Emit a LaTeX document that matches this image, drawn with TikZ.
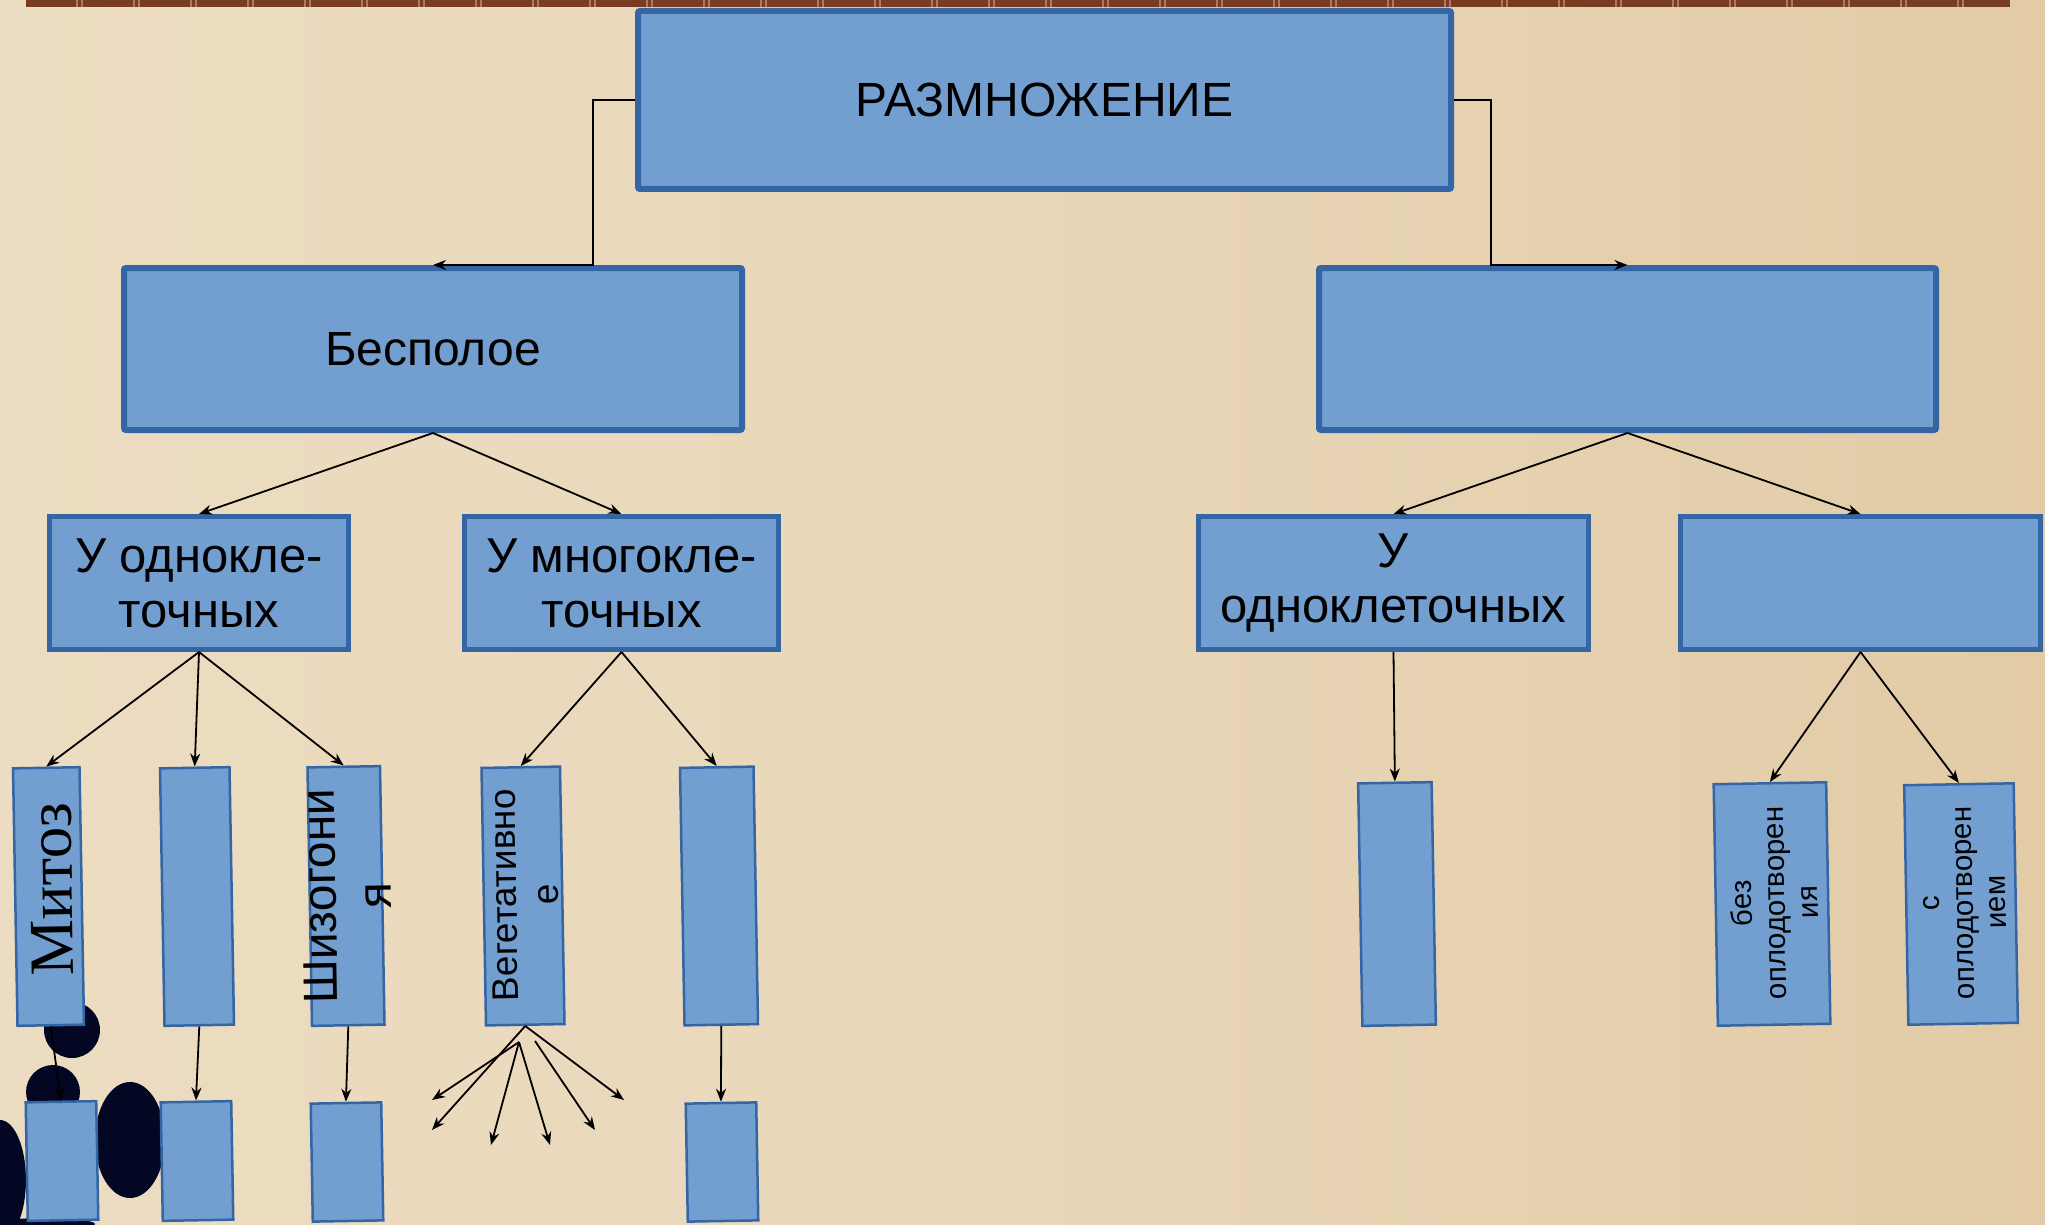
\documentclass[tikz,border=0pt]{standalone}
\usepackage{fontspec}
\setmainfont{Liberation Sans}
\newfontfamily\serifrus{Liberation Serif}
\usetikzlibrary{arrows.meta}
\definecolor{boxfill}{RGB}{114,159,207}
\definecolor{boxline}{RGB}{52,101,164}
\definecolor{bgL}{RGB}{236,220,193}
\definecolor{bgM}{RGB}{233,215,185}
\definecolor{bgR}{RGB}{226,203,166}
\definecolor{brownb}{RGB}{120,60,35}
\definecolor{brownl}{RGB}{175,120,95}
\definecolor{blobc}{RGB}{3,7,36}
\begin{document}
\begin{tikzpicture}[x=1pt,y=-1pt,
  bigbox/.style={draw=boxline, fill=boxfill, line width=6pt, rounded corners=2pt, inner sep=0pt, font=\fontsize{48}{55}\selectfont},
  midbox/.style={draw=boxline, fill=boxfill, line width=5pt, inner sep=0pt, align=center, font=\fontsize{49}{55}\selectfont},
  smallbox/.style={draw=boxline, fill=boxfill, line width=2.5pt, inner sep=0pt, rotate=1},
  vtext/.style={rotate=91, align=center, inner sep=0pt},
  arr/.style={line width=1.8pt, -{Stealth[length=13pt,width=10pt]}},
  blob/.style={fill=blobc}
]
% background
\shade[left color=bgL, right color=bgR, middle color=bgM] (0,0) rectangle (2045,1225);
\useasboundingbox (0,0) rectangle (2045,1225);
% top border
\draw[brownl, line width=7pt] (26,3.5) -- (2010,3.5);
\draw[brownb, line width=7pt, dash pattern=on 50pt off 2pt on 3pt off 2pt] (26,3.5) -- (2010,3.5);
% dark blobs
\fill[blob] (72,1030) circle (28);
\fill[blob] (53,1092) circle (27);
\fill[blob] (130,1140) ellipse (35 and 58);
\fill[blob] (0,1180) ellipse (26 and 60);
\fill[blob] (45,1224) ellipse (50 and 6);

% level 1 and 2
\node[bigbox, minimum width=813pt, minimum height=178pt] (top) at (1044.5,100) {РАЗМНОЖЕНИЕ};
\node[bigbox, minimum width=618pt, minimum height=162pt] (bes) at (433,349) {Бесполое};
\node[bigbox, minimum width=617pt, minimum height=162pt] (pol) at (1627.5,349) {};
% level 3
\node[midbox, minimum width=299pt, minimum height=133pt] (uod) at (199,583) {У однокле-\\точных};
\node[midbox, minimum width=314pt, minimum height=133pt] (umn) at (621.5,583) {У многокле-\\точных};
\node[midbox, minimum width=390pt, minimum height=133pt] (uodR) at (1393.5,583) {У\\одноклеточных};
\node[midbox, minimum width=360pt, minimum height=133pt] (empR) at (1860.5,583) {};
% small boxes
\node[smallbox, minimum width=66.5pt, minimum height=257.5pt] (s1) at (48.5,896.5) {};
\node[smallbox, minimum width=69.5pt, minimum height=257.5pt] (s2) at (197,896.5) {};
\node[smallbox, minimum width=72.5pt, minimum height=258.5pt] (s3) at (346,896) {};
\node[smallbox, minimum width=78.5pt, minimum height=257.5pt] (s4) at (523,896) {};
\node[smallbox, minimum width=73.5pt, minimum height=257.5pt] (s5) at (719,896) {};
\node[smallbox, minimum width=73.5pt, minimum height=242.5pt] (s6) at (1397,904) {};
\node[smallbox, minimum width=112.5pt, minimum height=241.5pt] (s7) at (1772,904) {};
\node[smallbox, minimum width=109.5pt, minimum height=239.5pt] (s8) at (1961,904) {};
% lower boxes
\node[smallbox, minimum width=70.5pt, minimum height=118.5pt] (l1) at (62,1161) {};
\node[smallbox, minimum width=70.5pt, minimum height=118.5pt] (l2) at (197,1161) {};
\node[smallbox, minimum width=70.5pt, minimum height=118pt] (l3) at (347,1162) {};
\node[smallbox, minimum width=70.5pt, minimum height=118pt] (l4) at (722,1162) {};
% vertical texts
\node[vtext, font=\serifrus\fontsize{63}{70}\selectfont] (tmit) at (52,889) {Митоз};
\node[vtext, font=\fontsize{48}{55}\selectfont] (tshiz) at (347,896) {Шизогони\\я};
\node[vtext, font=\fontsize{37}{42}\selectfont] (tveg) at (525,895) {Вегетативно\\е};
\node[vtext, font=\fontsize{29.5}{33}\selectfont] (tbez) at (1774,903) {без\\оплодотворен\\ия};
\node[vtext, font=\fontsize{29.5}{33}\selectfont] (ts) at (1965,903) {с\\оплодотворен\\ием};

% connectors
\draw[arr] (top.west) -- ++(-42,0) |- (bes.north);
\draw[arr] (top.east) -- ++(37,0) |- (pol.north);
\draw[arr] (bes.south) -- (uod.north);
\draw[arr] (bes.south) -- (umn.north);
\draw[arr] (pol.south) -- (uodR.north);
\draw[arr] (pol.south) -- (empR.north);
\draw[arr] (uod.south) -- (s1.north);
\draw[arr] (uod.south) -- (s2.north);
\draw[arr] (uod.south) -- (s3.north);
\draw[arr] (umn.south) -- (s4.north);
\draw[arr] (umn.south) -- (s5.north);
\draw[arr] (uodR.south) -- (s6.north);
\draw[arr] (empR.south) -- (s7.north);
\draw[arr] (empR.south) -- (s8.north);
\draw[arr] (s1.south) -- (l1.north);
\draw[arr] (s2.south) -- (l2.north);
\draw[arr] (s3.south) -- (l3.north);
\draw[arr] (s5.south) -- (l4.north);
% fan of arrows under Вегетативное
\coordinate (vb) at (519,1042);
\coordinate (vc) at (535,1041);
\coordinate (f1) at (432,1130);
\coordinate (f2) at (432,1100);
\coordinate (f3) at (491,1145);
\coordinate (f4) at (550,1145);
\coordinate (f5) at (595,1130);
\coordinate (f6) at (624,1100);
\draw[arr] (s4.south) -- (f1);
\draw[arr] (vb) -- (f2);
\draw[arr] (vb) -- (f3);
\draw[arr] (vb) -- (f4);
\draw[arr] (vc) -- (f5);
\draw[arr] (s4.south) -- (f6);
\end{tikzpicture}
\end{document}
